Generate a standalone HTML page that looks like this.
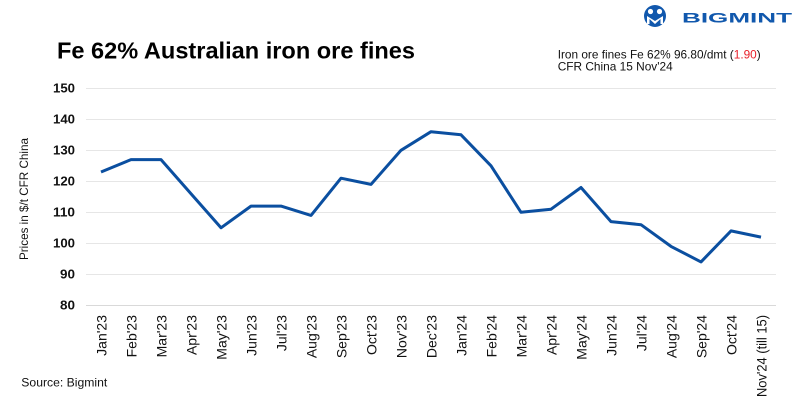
<!DOCTYPE html>
<html><head><meta charset="utf-8"><style>
html,body{margin:0;padding:0;background:#fff;}
svg{display:block;}
text{font-family:"Liberation Sans",Arial,sans-serif;}
</style></head><body>
<svg width="800" height="400" viewBox="0 0 800 400" xmlns="http://www.w3.org/2000/svg">
<rect width="800" height="400" fill="#fff"/>
<!-- logo -->
<circle cx="655" cy="16" r="11" fill="#1158ad"/>
<circle cx="650.5" cy="11.5" r="2.6" fill="#fff"/>
<circle cx="659.5" cy="11.5" r="2.6" fill="#fff"/>
<path d="M647 16 L647 24 L649.5 24 L649.5 19 L655 24 L660.5 19 L660.5 24 L663 24 L663 16 L655 21 Z" fill="#fff"/>
<text x="682" y="22.7" font-size="14" font-weight="bold" fill="#1158ad" textLength="110" lengthAdjust="spacingAndGlyphs">BIGMINT</text>
<!-- title -->
<text x="57" y="58.3" font-size="23" font-weight="bold" fill="#000" textLength="358" lengthAdjust="spacingAndGlyphs">Fe 62% Australian iron ore fines</text>
<text x="557.7" y="58.3" font-size="12" fill="#111" textLength="203" lengthAdjust="spacingAndGlyphs">Iron ore fines Fe 62% 96.80/dmt (<tspan fill="#e8202a">1.90</tspan>)</text>
<text x="557.7" y="70.5" font-size="12" fill="#111" textLength="115" lengthAdjust="spacingAndGlyphs">CFR China 15 Nov'24</text>
<!-- gridlines -->
<g stroke="#e6e6e6" stroke-width="1">
<line x1="86" x2="776" y1="88.5" y2="88.5"/>
<line x1="86" x2="776" y1="119.5" y2="119.5"/>
<line x1="86" x2="776" y1="150.5" y2="150.5"/>
<line x1="86" x2="776" y1="181.5" y2="181.5"/>
<line x1="86" x2="776" y1="212.5" y2="212.5"/>
<line x1="86" x2="776" y1="243.5" y2="243.5"/>
<line x1="86" x2="776" y1="274.5" y2="274.5"/>
<line x1="86" x2="776" y1="305.5" y2="305.5" stroke="#d9d9d9"/>
</g>
<!-- y labels -->
<g font-size="12.5" font-weight="bold" fill="#111" text-anchor="end">
<text x="75" y="92.5" textLength="22" lengthAdjust="spacingAndGlyphs">150</text>
<text x="75" y="123.5" textLength="22" lengthAdjust="spacingAndGlyphs">140</text>
<text x="75" y="154.5" textLength="22" lengthAdjust="spacingAndGlyphs">130</text>
<text x="75" y="185.5" textLength="22" lengthAdjust="spacingAndGlyphs">120</text>
<text x="75" y="216.5" textLength="22" lengthAdjust="spacingAndGlyphs">110</text>
<text x="75" y="247.5" textLength="22" lengthAdjust="spacingAndGlyphs">100</text>
<text x="75" y="278.5" textLength="15" lengthAdjust="spacingAndGlyphs">90</text>
<text x="75" y="309.5" textLength="15" lengthAdjust="spacingAndGlyphs">80</text>
</g>
<text transform="translate(28,199) rotate(-90)" font-size="12" fill="#111" text-anchor="middle" textLength="122" lengthAdjust="spacingAndGlyphs">Prices in $/t CFR China</text>
<!-- x labels -->
<g font-size="14" fill="#111" text-anchor="end">
<text transform="translate(106.5,315) rotate(-90)">Jan'23</text>
<text transform="translate(136.5,315) rotate(-90)">Feb'23</text>
<text transform="translate(166.5,315) rotate(-90)">Mar'23</text>
<text transform="translate(196.5,315) rotate(-90)">Apr'23</text>
<text transform="translate(226.5,315) rotate(-90)">May'23</text>
<text transform="translate(256.5,315) rotate(-90)">Jun'23</text>
<text transform="translate(286.5,315) rotate(-90)">Jul'23</text>
<text transform="translate(316.5,315) rotate(-90)">Aug'23</text>
<text transform="translate(346.5,315) rotate(-90)">Sep'23</text>
<text transform="translate(376.5,315) rotate(-90)">Oct'23</text>
<text transform="translate(406.5,315) rotate(-90)">Nov'23</text>
<text transform="translate(436.5,315) rotate(-90)">Dec'23</text>
<text transform="translate(466.5,315) rotate(-90)">Jan'24</text>
<text transform="translate(496.5,315) rotate(-90)">Feb'24</text>
<text transform="translate(526.5,315) rotate(-90)">Mar'24</text>
<text transform="translate(556.5,315) rotate(-90)">Apr'24</text>
<text transform="translate(586.5,315) rotate(-90)">May'24</text>
<text transform="translate(616.5,315) rotate(-90)">Jun'24</text>
<text transform="translate(646.5,315) rotate(-90)">Jul'24</text>
<text transform="translate(676.5,315) rotate(-90)">Aug'24</text>
<text transform="translate(706.5,315) rotate(-90)">Sep'24</text>
<text transform="translate(736.5,315) rotate(-90)">Oct'24</text>
<text transform="translate(766.5,315) rotate(-90)" textLength="82" lengthAdjust="spacingAndGlyphs">Nov'24 (till 15)</text>
</g>
<!-- series -->
<polyline fill="none" stroke="#0b4fa0" stroke-width="3" stroke-linejoin="round" stroke-linecap="butt" points="101,172 131,159.6 161,159.6 191,193.7 221,227.8 251,206.1 281,206.1 311,215.4 341,178.2 371,184.4 401,150.3 431,131.7 461,134.8 491,165.8 521,212.3 551,209.2 581,187.5 611,221.6 641,224.7 671,246.4 701,261.9 731,230.9 761,237.1"/>
<!-- source -->
<text x="21.3" y="386.7" font-size="12" fill="#111" textLength="86" lengthAdjust="spacingAndGlyphs">Source: Bigmint</text>
</svg>
</body></html>
